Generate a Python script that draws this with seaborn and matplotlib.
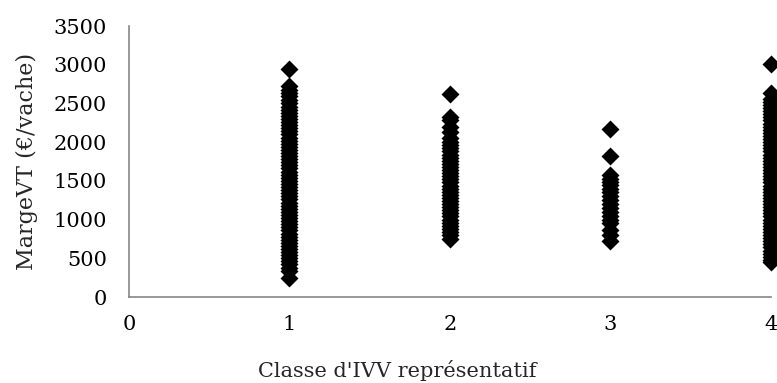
import pandas as pd
import seaborn as sns
import matplotlib.pyplot as plt

# MargeVT (€/vache) par classe d'IVV représentatif
classe_1 = [2950, 2720, 2680, 2640, 2590, 2550, 2500, 2460, 2420, 2380,
            2340, 2300, 2260, 2220, 2180, 2140, 2100, 2060, 2020, 1980,
            1940, 1900, 1860, 1820, 1780, 1740, 1700, 1660, 1620, 1580,
            1540, 1500, 1460, 1420, 1380, 1340, 1300, 1260, 1220, 1180,
            1140, 1100, 1060, 1020, 980, 940, 900, 860, 820, 780,
            740, 700, 660, 620, 580, 540, 500, 460, 420, 370, 330, 250]
classe_2 = [2620, 2330, 2280, 2200, 2130, 2060, 2000, 1960, 1920, 1880,
            1840, 1800, 1760, 1720, 1680, 1640, 1600, 1560, 1520, 1480,
            1440, 1400, 1360, 1320, 1280, 1240, 1200, 1160, 1120, 1080,
            1040, 1000, 960, 920, 880, 840, 800, 750]
classe_3 = [2170, 1820, 1580, 1530, 1490, 1450, 1400, 1360, 1300, 1250,
            1200, 1150, 1100, 1050, 1000, 950, 870, 800, 720]
classe_4 = [3010, 2640, 2560, 2520, 2480, 2440, 2400, 2360, 2320, 2280,
            2240, 2200, 2160, 2120, 2080, 2040, 2000, 1960, 1920, 1880,
            1840, 1800, 1760, 1720, 1680, 1640, 1600, 1560, 1520, 1480,
            1440, 1400, 1360, 1320, 1280, 1240, 1200, 1160, 1120, 1080,
            1040, 1000, 960, 920, 880, 840, 800, 760, 720, 680,
            640, 600, 560, 520, 480, 450]

groups = {1: classe_1, 2: classe_2, 3: classe_3, 4: classe_4}
df = pd.DataFrame([(k, v) for k, vals in groups.items() for v in vals],
                  columns=["classe", "marge"])

sns.set_style("white")
plt.rcParams['font.family'] = ['DejaVu Serif']

fig = plt.figure(figsize=(7.77, 3.83), dpi=100)
ax = fig.add_axes([0.166, 0.2245, 0.826, 0.7075])

sns.scatterplot(data=df, x="classe", y="marge", marker="D", color="black",
                s=84, linewidth=0, ax=ax, clip_on=False, legend=False)

ax.set_xlim(0, 4)
ax.set_ylim(0, 3500)
ax.set_xticks([0, 1, 2, 3, 4])
ax.set_yticks(range(0, 3501, 500))

for side in ["top", "right"]:
    ax.spines[side].set_visible(False)
for side in ["left", "bottom"]:
    ax.spines[side].set_color("#868686")
    ax.spines[side].set_linewidth(1.2)

ax.tick_params(axis="both", direction="out", length=4, width=1.2,
               color="#868686", labelsize=15, labelcolor="black", pad=12)
ax.tick_params(axis="x", pad=9)

ax.set_xlabel("Classe d'IVV représentatif", fontsize=15)
ax.set_ylabel("MargeVT (€/vache)", fontsize=16)
ax.xaxis.set_label_coords(0.418, -0.232)
ax.yaxis.set_label_coords(-0.141, 0.5)

fig.savefig("out.png", dpi=100)
